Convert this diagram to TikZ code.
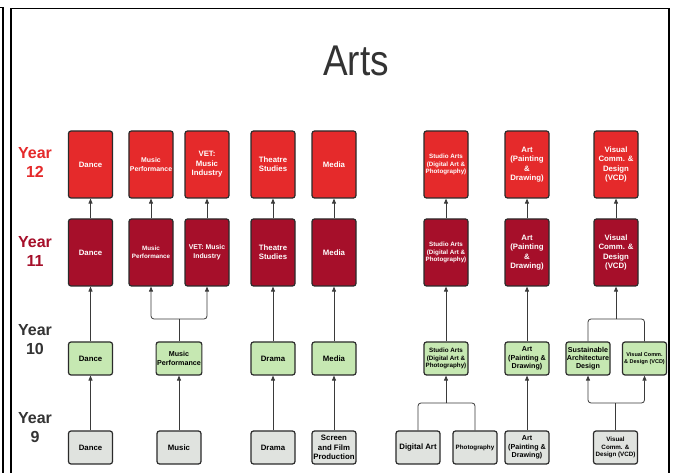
\documentclass[tikz,border=0pt]{standalone}
\usepackage{fontspec}
\setmainfont{Liberation Sans}
\usetikzlibrary{arrows.meta}
\definecolor{rA}{HTML}{E52A2B}
\definecolor{rB}{HTML}{A60F2A}
\definecolor{gA}{HTML}{C6E8B2}
\definecolor{gB}{HTML}{E0E3DF}
\definecolor{bd}{HTML}{2A2A2A}
\definecolor{ln}{HTML}{3A3A3A}
\definecolor{tx}{HTML}{333333}
\tikzset{
  box/.style={draw=bd, line width=1.2pt, rounded corners=2.5pt, align=center, inner sep=1pt, font=\bfseries\fontsize{7.8}{9.4}\selectfont},
  tallbox/.style={box, minimum width=44pt, minimum height=67pt},
  shortbox/.style={box, minimum width=44pt, minimum height=33pt},
  yA/.style={tallbox, fill=rA, text=white},
  yB/.style={tallbox, fill=rB, text=white},
  yC/.style={shortbox, fill=gA, text=black},
  yD/.style={shortbox, fill=gB, text=black},
  fmid/.style={font=\bfseries\fontsize{7.15}{8.3}\selectfont},
  fsmall/.style={font=\bfseries\fontsize{6.9}{8.6}\selectfont},
  ftiny/.style={font=\bfseries\fontsize{6.25}{7.6}\selectfont},
  fmini/.style={font=\bfseries\fontsize{5.5}{7.2}\selectfont},
  arr/.style={draw=ln, line width=0.8pt, -{Triangle[length=5pt,width=4pt]}, rounded corners=3pt},
  con/.style={draw=ln, line width=0.8pt, rounded corners=3pt},
  yearlbl/.style={align=center, font=\bfseries\fontsize{16}{19}\selectfont},
  frame/.style={draw=black, line width=1.6pt}
}
\begin{document}
\begin{tikzpicture}[x=1pt,y=-1pt]
\useasboundingbox (0,0) rectangle (673,473);
\fill[white] (0,0) rectangle (673,473);
% frame
\draw[frame] (-5,7.5) -- (3,7.5) -- (3,480);
\draw[frame] (11,480) -- (11,8.5) -- (669,8.5) -- (669,480);
% title
\node[text=tx, font=\fontsize{43}{50}\selectfont] (title) at (356,61) {\scalebox{0.86}[1]{Arts}};
% year labels
\node[yearlbl, text=rA] (lbl12) at (35,162) {Year\\12};
\node[yearlbl, text=rB] (lbl11) at (35,251) {Year\\11};
\node[yearlbl, text=tx] (lbl10) at (35,340) {Year\\10};
\node[yearlbl, text=tx] (lbl9) at (35,428) {Year\\9};
% Year 12
\node[yA] (da12) at (90.5,164.5) {Dance};
\node[yA, fsmall] (mp12) at (151,164.5) {Music\\Performance};
\node[yA] (ve12) at (207,164.5) {VET:\\Music\\Industry};
\node[yA] (th12) at (273,164.5) {Theatre\\Studies};
\node[yA] (me12) at (334,164.5) {Media};
\node[yA, ftiny] (sa12) at (446,164.5) {Studio Arts\\(Digital Art \&\\Photography)};
\node[yA] (ar12) at (527,164.5) {Art\\(Painting\\\&\\Drawing)};
\node[yA] (vc12) at (616,164.5) {Visual\\Comm. \&\\Design\\(VCD)};
% Year 11
\node[yB] (da11) at (90.5,252.5) {Dance};
\node[yB, ftiny] (mp11) at (151,252.5) {Music\\Performance};
\node[yB, fsmall] (ve11) at (207,252.5) {VET: Music\\Industry};
\node[yB] (th11) at (273,252.5) {Theatre\\Studies};
\node[yB] (me11) at (334,252.5) {Media};
\node[yB, ftiny] (sa11) at (446,252.5) {Studio Arts\\(Digital Art \&\\Photography)};
\node[yB] (ar11) at (527,252.5) {Art\\(Painting\\\&\\Drawing)};
\node[yB] (vc11) at (616,252.5) {Visual\\Comm. \&\\Design\\(VCD)};
% Year 10
\node[yC] (da10) at (90.5,358.5) {Dance};
\node[yC, fmid] (mp10) at (179,358.5) {Music\\Performance};
\node[yC] (dr10) at (273,358.5) {Drama};
\node[yC] (me10) at (334,358.5) {Media};
\node[yC, ftiny] (sa10) at (446,358.5) {Studio Arts\\(Digital Art \&\\Photography)};
\node[yC, fmid] (ar10) at (527,358.5) {Art\\(Painting \&\\Drawing)};
\node[yC, fmid] (su10) at (588,358.5) {Sustainable\\Architecture\\Design};
\node[yC, fmini] (vc10) at (644.5,358.5) {Visual Comm.\\\& Design (VCD)};
% Year 9
\node[yD] (da9) at (90.5,447.5) {Dance};
\node[yD] (mu9) at (179,447.5) {Music};
\node[yD] (dr9) at (273,447.5) {Drama};
\node[yD] (sc9) at (334,447.5) {Screen\\and Film\\Production};
\node[yD] (di9) at (418,447.5) {Digital Art};
\node[yD, ftiny] (ph9) at (475,447.5) {Photography};
\node[yD, fmid] (ar9) at (527,447.5) {Art\\(Painting \&\\Drawing)};
\node[yD, ftiny] (vc9) at (615.5,447.5) {Visual\\Comm. \&\\Design (VCD)};
% Year 11 -> Year 12
\foreach \n in {da,mp,ve,th,me,sa,ar,vc}{
  \draw[arr] (\n11.north) -- (\n12.south);
}
% Year 10 -> Year 11
\draw[arr] (da10.north) -- (da11.south);
\coordinate (j1) at (179,319);
\draw[con] (mp10.north) -- (j1);
\draw[arr] (j1) -| (mp11.south);
\draw[arr] (j1) -| (ve11.south);
\draw[arr] (dr10.north) -- (th11.south);
\draw[arr] (me10.north) -- (me11.south);
\draw[arr] (sa10.north) -- (sa11.south);
\draw[arr] (ar10.north) -- (ar11.south);
\coordinate (j2) at (616,319);
\draw[con] (su10.north) |- (j2);
\draw[con] (vc10.north) |- (j2);
\draw[arr] (j2) -- (vc11.south);
% Year 9 -> Year 10
\draw[arr] (da9.north) -- (da10.south);
\draw[arr] (mu9.north) -- (mp10.south);
\draw[arr] (dr9.north) -- (dr10.south);
\draw[arr] (sc9.north) -- (me10.south);
\coordinate (j3) at (446,403);
\draw[con] (di9.north) |- (j3);
\draw[con] (ph9.north) |- (j3);
\draw[arr] (j3) -- (sa10.south);
\draw[arr] (ar9.north) -- (ar10.south);
\coordinate (j4) at (615.5,403);
\draw[con] (vc9.north) -- (j4);
\draw[arr] (j4) -| (su10.south);
\draw[arr] (j4) -| (vc10.south);
\end{tikzpicture}
\end{document}
